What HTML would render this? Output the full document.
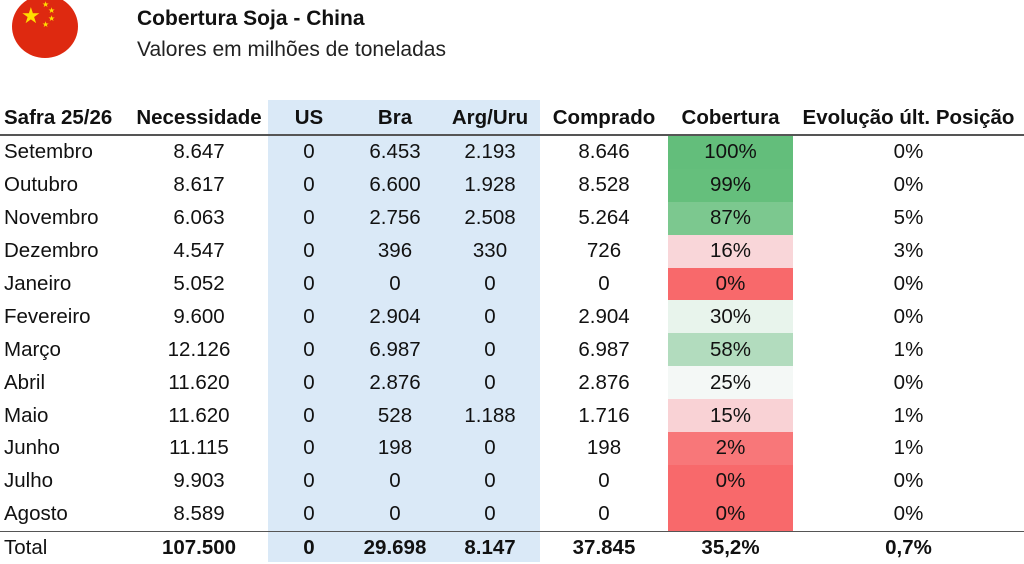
<!DOCTYPE html>
<html><head><meta charset="utf-8"><style>
body{margin:0;width:1024px;height:562px;overflow:hidden;background:#fff;font-family:"Liberation Sans",sans-serif;color:#111;position:relative}
.band{position:absolute;left:268px;top:100px;width:272px;height:462px;background:#dae9f7}
table{position:absolute;left:0;top:102px;border-collapse:collapse;table-layout:fixed;width:1024px}
td,th{padding:0;text-align:center;font-size:20.5px;white-space:nowrap;overflow:visible}
th{height:32px;font-weight:bold;border-bottom:2px solid #555}
td{height:32.9px}
td:first-child,th:first-child{text-align:left;padding-left:4px}
tr.tot td{border-top:1.5px solid #555;font-weight:bold;height:32px}
tr.tot td:first-child{font-weight:normal}
</style></head><body>
<div style="position:absolute;left:12px;top:-5px;width:66px;height:63px;border-radius:50%;background:#de2910;overflow:hidden">
<div style="position:absolute;left:9px;top:10px;color:#ffde00;font-size:22px;line-height:22px">★</div>
<div style="position:absolute;left:30px;top:5px;color:#ffde00;font-size:8px">★</div>
<div style="position:absolute;left:36px;top:11px;color:#ffde00;font-size:8px">★</div>
<div style="position:absolute;left:36px;top:19px;color:#ffde00;font-size:8px">★</div>
<div style="position:absolute;left:30px;top:25px;color:#ffde00;font-size:8px">★</div>
</div>
<div style="position:absolute;left:137px;top:7px;font-size:21px;font-weight:bold">Cobertura Soja - China</div>
<div style="position:absolute;left:137px;top:38px;font-size:21px;color:#222">Valores em milhões de toneladas</div>
<div class="band"></div>
<table>
<colgroup><col style="width:130px"><col style="width:138px"><col style="width:82px"><col style="width:90px"><col style="width:100px"><col style="width:128px"><col style="width:125px"><col style="width:231px"></colgroup>
<tr><th>Safra 25/26</th><th>Necessidade</th><th>US</th><th>Bra</th><th>Arg/Uru</th><th>Comprado</th><th>Cobertura</th><th>Evolução últ. Posição</th></tr>
<tr><td>Setembro</td><td>8.647</td><td>0</td><td>6.453</td><td>2.193</td><td>8.646</td><td style="background:#63be7b">100%</td><td>0%</td></tr>
<tr><td>Outubro</td><td>8.617</td><td>0</td><td>6.600</td><td>1.928</td><td>8.528</td><td style="background:#65bf7c">99%</td><td>0%</td></tr>
<tr><td>Novembro</td><td>6.063</td><td>0</td><td>2.756</td><td>2.508</td><td>5.264</td><td style="background:#7cc88f">87%</td><td>5%</td></tr>
<tr><td>Dezembro</td><td>4.547</td><td>0</td><td>396</td><td>330</td><td>726</td><td style="background:#f9d6d9">16%</td><td>3%</td></tr>
<tr><td>Janeiro</td><td>5.052</td><td>0</td><td>0</td><td>0</td><td>0</td><td style="background:#f8696b">0%</td><td>0%</td></tr>
<tr><td>Fevereiro</td><td>9.600</td><td>0</td><td>2.904</td><td>0</td><td>2.904</td><td style="background:#e8f4ec">30%</td><td>0%</td></tr>
<tr><td>Março</td><td>12.126</td><td>0</td><td>6.987</td><td>0</td><td>6.987</td><td style="background:#b2dcbe">58%</td><td>1%</td></tr>
<tr><td>Abril</td><td>11.620</td><td>0</td><td>2.876</td><td>0</td><td>2.876</td><td style="background:#f4f8f6">25%</td><td>0%</td></tr>
<tr><td>Maio</td><td>11.620</td><td>0</td><td>528</td><td>1.188</td><td>1.716</td><td style="background:#f9d2d5">15%</td><td>1%</td></tr>
<tr><td>Junho</td><td>11.115</td><td>0</td><td>198</td><td>0</td><td>198</td><td style="background:#f87779">2%</td><td>1%</td></tr>
<tr><td>Julho</td><td>9.903</td><td>0</td><td>0</td><td>0</td><td>0</td><td style="background:#f8696b">0%</td><td>0%</td></tr>
<tr><td>Agosto</td><td>8.589</td><td>0</td><td>0</td><td>0</td><td>0</td><td style="background:#f8696b">0%</td><td>0%</td></tr>
<tr class="tot"><td>Total</td><td>107.500</td><td>0</td><td>29.698</td><td>8.147</td><td>37.845</td><td>35,2%</td><td>0,7%</td></tr>
</table>
</body></html>
